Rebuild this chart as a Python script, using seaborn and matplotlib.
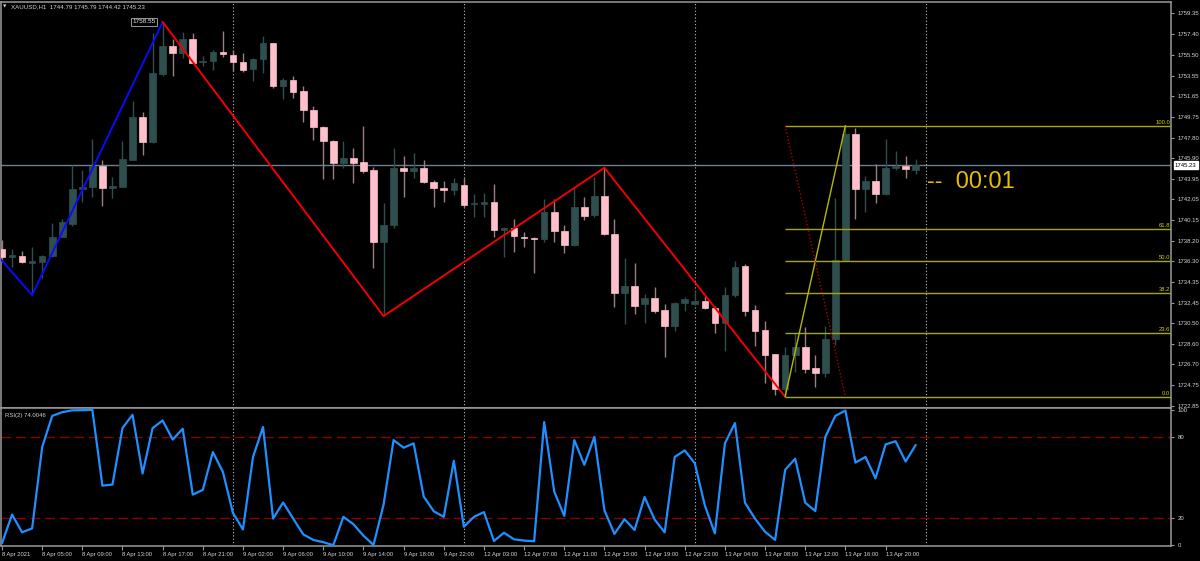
import matplotlib
matplotlib.use("Agg")
import matplotlib.pyplot as plt
import matplotlib.transforms as mtransforms
import pandas as pd
import seaborn as sns

# XAUUSD H1, 8 Apr 2021 01:00 .. 13 Apr 2021 23:00 (92 bars)
opens = [
    1737.40, 1736.65, 1736.78, 1736.16, 1736.22, 1736.78, 1738.54, 1739.75, 1743.04, 1743.16,
    1745.15, 1743.13, 1743.20, 1745.74, 1749.71, 1747.41, 1753.74, 1756.31, 1755.63, 1756.96,
    1754.82, 1754.92, 1755.78, 1755.44, 1754.82, 1754.14, 1755.13, 1756.56, 1752.62, 1753.12,
    1752.09, 1750.39, 1748.81, 1747.50, 1745.40, 1745.92, 1745.49, 1744.81, 1738.05, 1739.63,
    1744.99, 1744.65, 1744.99, 1743.69, 1743.13, 1742.92, 1743.38, 1741.58, 1741.64, 1741.83,
    1739.23, 1739.35, 1738.54, 1738.48, 1738.36, 1740.87, 1739.10, 1737.77, 1741.37, 1740.59,
    1742.36, 1738.79, 1733.37, 1733.99, 1732.31, 1732.90, 1731.72, 1730.30, 1732.43, 1732.28,
    1732.62, 1731.91, 1730.51, 1733.15, 1735.85, 1731.75, 1729.86, 1727.69, 1724.37, 1727.54,
    1728.34, 1726.36, 1725.89, 1729.02, 1736.40, 1748.09, 1742.98, 1743.75, 1742.51, 1744.99,
    1745.18, 1744.79]
highs = [
    1738.26, 1737.40, 1737.24, 1737.64, 1736.87, 1739.81, 1740.19, 1745.24, 1744.78, 1747.63,
    1745.71, 1744.16, 1747.50, 1751.23, 1750.17, 1757.55, 1758.55, 1756.93, 1757.61, 1757.49,
    1755.38, 1755.94, 1757.71, 1755.94, 1755.63, 1755.16, 1757.27, 1756.60, 1753.30, 1753.52,
    1752.59, 1750.73, 1748.87, 1747.57, 1747.47, 1746.85, 1748.90, 1745.02, 1741.68, 1746.79,
    1746.08, 1746.33, 1745.71, 1743.85, 1743.75, 1744.06, 1744.00, 1742.51, 1742.61, 1743.44,
    1739.50, 1740.19, 1739.04, 1738.57, 1742.05, 1742.11, 1739.66, 1743.07, 1742.30, 1744.16,
    1744.99, 1740.19, 1736.56, 1736.09, 1733.24, 1733.92, 1732.31, 1732.53, 1732.93, 1733.61,
    1733.06, 1732.12, 1733.86, 1736.34, 1736.00, 1732.22, 1730.73, 1727.69, 1728.34, 1729.58,
    1730.14, 1727.54, 1730.26, 1742.14, 1748.90, 1748.71, 1744.22, 1745.33, 1747.63, 1746.54,
    1746.11, 1745.79]
lows = [
    1736.25, 1735.78, 1736.09, 1733.15, 1734.70, 1736.71, 1738.51, 1739.57, 1741.83, 1742.30,
    1741.46, 1742.14, 1743.16, 1745.71, 1746.20, 1747.32, 1753.52, 1753.52, 1755.16, 1754.70,
    1754.45, 1754.08, 1755.32, 1754.02, 1753.92, 1753.09, 1753.83, 1752.37, 1751.35, 1751.50,
    1749.27, 1747.57, 1743.94, 1743.94, 1744.93, 1743.54, 1744.53, 1735.63, 1731.19, 1739.35,
    1742.30, 1744.00, 1743.60, 1741.30, 1741.77, 1742.45, 1741.37, 1740.43, 1740.43, 1738.57,
    1736.65, 1737.18, 1737.64, 1735.16, 1738.11, 1738.11, 1737.02, 1737.74, 1740.12, 1740.37,
    1738.73, 1732.06, 1730.42, 1731.38, 1730.57, 1731.50, 1727.35, 1729.83, 1731.69, 1732.22,
    1731.81, 1729.64, 1727.97, 1732.99, 1731.19, 1728.40, 1724.93, 1723.85, 1723.69, 1726.02,
    1725.92, 1724.56, 1725.55, 1728.50, 1736.34, 1740.22, 1740.90, 1741.68, 1742.45, 1744.78,
    1744.00, 1744.42]
closes = [
    1736.65, 1736.84, 1736.22, 1736.22, 1736.81, 1738.57, 1739.94, 1743.04, 1743.23, 1745.15,
    1743.13, 1743.23, 1745.80, 1749.71, 1747.38, 1753.77, 1756.31, 1755.63, 1756.93, 1754.76,
    1754.92, 1755.78, 1755.54, 1754.79, 1754.08, 1755.10, 1756.56, 1752.62, 1753.15, 1752.03,
    1750.36, 1748.78, 1747.44, 1745.40, 1745.92, 1745.46, 1744.71, 1738.05, 1739.66, 1744.99,
    1744.65, 1744.99, 1743.63, 1743.07, 1742.92, 1743.54, 1741.52, 1741.68, 1741.71, 1739.23,
    1739.35, 1738.61, 1738.42, 1738.36, 1740.87, 1739.10, 1737.77, 1741.37, 1740.53, 1742.36,
    1738.79, 1733.37, 1733.99, 1732.12, 1732.90, 1731.66, 1730.30, 1732.43, 1732.75, 1732.59,
    1731.91, 1730.51, 1733.15, 1735.78, 1731.69, 1729.80, 1727.57, 1724.37, 1727.57, 1728.28,
    1726.30, 1725.89, 1729.09, 1736.40, 1748.09, 1742.98, 1743.75, 1742.51, 1744.99, 1745.18,
    1744.90, 1745.23]
rsi2 = [
    1.5, 22.7, 9.6, 12.5, 72.4, 95.5, 98.2, 99.6, 99.7, 99.9,
    44.0, 44.8, 86.5, 96.3, 53.0, 86.5, 92.1, 78.0, 86.0, 37.4,
    40.9, 68.8, 54.2, 23.9, 11.7, 65.2, 87.3, 19.7, 31.6, 19.7,
    8.1, 4.0, 2.3, 0.1, 21.0, 15.6, 7.1, 0.3, 29.9, 77.6,
    72.0, 75.2, 36.0, 25.1, 21.0, 62.3, 13.7, 21.0, 24.5, 3.2,
    9.3, 4.4, 3.5, 3.0, 90.9, 39.7, 21.7, 77.6, 59.4, 80.0,
    25.8, 8.4, 19.3, 11.3, 35.6, 19.0, 9.6, 65.2, 70.0, 60.5,
    29.4, 8.8, 75.2, 90.2, 31.4, 19.7, 10.0, 4.0, 55.7, 63.9,
    31.4, 25.3, 80.0, 95.5, 99.4, 61.0, 65.2, 49.4, 74.4, 76.8,
    61.8, 74.0046]

time_labels = ["8 Apr 2021", "8 Apr 05:00", "8 Apr 09:00", "8 Apr 13:00", "8 Apr 17:00",
               "8 Apr 21:00", "9 Apr 02:00", "9 Apr 06:00", "9 Apr 10:00", "9 Apr 14:00",
               "9 Apr 18:00", "9 Apr 22:00", "12 Apr 03:00", "12 Apr 07:00", "12 Apr 11:00",
               "12 Apr 15:00", "12 Apr 19:00", "12 Apr 23:00", "13 Apr 04:00", "13 Apr 08:00",
               "13 Apr 12:00", "13 Apr 16:00", "13 Apr 20:00"]
price_ticks = ["1759.35", "1757.40", "1755.50", "1753.55", "1751.65", "1749.75", "1747.80",
               "1745.90", "1743.95", "1742.05", "1740.15", "1738.20", "1736.30", "1734.35",
               "1732.45", "1730.50", "1728.60", "1726.70", "1724.75", "1722.85"]
day_starts = [23, 46, 69, 92]

# zigzag turning points (bar, price)
zz_blue_bars = [-1, 3, 16]
zz_blue_prices = [1737.4, 1733.15, 1758.55]
zz_red_bars = [16, 38, 60, 78]
zz_red_prices = [1758.55, 1731.19, 1744.99, 1723.69]

# fibonacci from bar 78 low to bar 84 high
fib_bars = [78, 84]
fib_low, fib_high = 1723.69, 1748.90
fib_levels = [0.0, 23.6, 38.2, 50.0, 61.8, 100.0]

last_price = 1745.23

df = pd.DataFrame({"open": opens, "high": highs, "low": lows, "close": closes})
df["bar"] = range(len(df))
df["bull"] = df["close"] >= df["open"]

BULL = "#2F4F4F"
BEAR = "#FFC0CB"
BEAR_WICK = "#9c7f84"
TXT = "#d4d4d4"
FRAME = "#9a9a9a"

sns.set_style("dark", {"axes.facecolor": "black", "figure.facecolor": "black"})
plt.rcParams["font.family"] = ["Liberation Sans", "DejaVu Sans"]

W, H = 1200, 561
fig = plt.figure(figsize=(12, 5.61), dpi=100, facecolor="black")
ax = fig.add_axes([1 / W, 1 - 408 / H, 1170 / W, 406.5 / H])
ax_rsi = fig.add_axes([1 / W, 1 - 546 / H, 1170 / W, 138 / H])

x_left, x_right = -0.1, 116.43

# candles
wick_col = [BULL if b else BEAR_WICK for b in df["bull"]]
ax.vlines(df["bar"], df["low"], df["high"], colors=wick_col, lw=1, zorder=2)
body_bottom = df[["open", "close"]].min(axis=1)
body_height = (df["close"] - df["open"]).abs().clip(lower=0.12)
ax.bar(df["bar"], body_height, bottom=body_bottom, width=0.66,
       color=[BULL if b else BEAR for b in df["bull"]],
       edgecolor=[BULL if b else BEAR for b in df["bull"]], linewidth=0.5, zorder=3)

# current price line and day separators
ax.axhline(last_price, color="#6e7f8f", lw=1, zorder=1)
for d in day_starts:
    for a in (ax, ax_rsi):
        a.axvline(d, color="#bdbdbd", ls=(0, (1, 2)), lw=0.8, zorder=1)

# zigzag
sns.lineplot(x=zz_blue_bars, y=zz_blue_prices, ax=ax, color="#0a0aff", lw=1.4, zorder=4)
sns.lineplot(x=zz_red_bars, y=zz_red_prices, ax=ax, color="#f00000", lw=1.4, zorder=4)
ax.text(15.3, 1758.55, "1758.55", ha="right", va="center", fontsize=4.6, color="#e6e6e6",
        bbox=dict(facecolor="black", edgecolor="#b0b0b0", pad=0.9, lw=0.6), zorder=6)

# fibonacci
fib_prices = [fib_low + lv / 100 * (fib_high - fib_low) for lv in fib_levels]
for lv, p in zip(fib_levels, fib_prices):
    ax.hlines(p, fib_bars[0], x_right, color="#a8a800", lw=1, zorder=4)
    ax.text(x_right - 0.1, p + 0.08, f"{lv:.1f}", ha="right", va="bottom",
            fontsize=4.2, color="#d2d200", zorder=6)
ax.plot(fib_bars, [fib_low, fib_high], color="#b8b800", lw=1, zorder=4)
ax.plot(fib_bars, [fib_high, fib_low], color="#b00000", lw=1, ls=(0, (1, 1.5)), zorder=4)

ax.text(92.1, 1743.66, "--  00:01", ha="left", va="center", fontsize=17,
        color="#E6BE00", zorder=6)

ax.set_xlim(x_left, x_right)
ax.set_ylim(1722.64, 1760.45)
ax.yaxis.tick_right()
ax.set_yticks([float(t) for t in price_ticks])
ax.set_yticklabels(price_ticks)
ax.tick_params(axis="y", colors=FRAME, labelcolor=TXT, labelsize=4.3, length=2.5,
               width=0.8, pad=2, direction="out", right=True, left=False)
ax.tick_params(axis="x", bottom=False, labelbottom=False)
ax.set_xlabel("")
ax.set_ylabel("")

trans = mtransforms.blended_transform_factory(ax.transAxes, ax.transData)
ax.text(1.0 + 4 / 1170, last_price, "1745.23", transform=trans, ha="left", va="center",
        fontsize=4.3, color="black",
        bbox=dict(facecolor="white", edgecolor="white", pad=0.9), zorder=7, clip_on=False)

# RSI panel
sns.lineplot(x=df["bar"], y=rsi2, ax=ax_rsi, color="#1E90FF", lw=1.6, zorder=4)
for lvl in (20, 80):
    ax_rsi.axhline(lvl, color="#8B0000", lw=1, ls=(0, (7, 3.5)), zorder=2)
ax_rsi.set_xlim(x_left, x_right)
ax_rsi.set_ylim(-0.5, 101.3)
ax_rsi.yaxis.tick_right()
ax_rsi.set_yticks([0, 20, 80, 100])
ax_rsi.set_yticklabels(["0", "20", "80", "100"])
ax_rsi.tick_params(axis="y", colors=FRAME, labelcolor=TXT, labelsize=4.3, length=2.5,
                   width=0.8, pad=2, direction="out", right=True, left=False)
ax_rsi.set_xticks(range(0, 4 * len(time_labels), 4))
ax_rsi.set_xticklabels(time_labels, ha="left")
ax_rsi.tick_params(axis="x", colors=FRAME, labelcolor=TXT, labelsize=4.2, length=3,
                   width=0.8, pad=1, direction="out", bottom=True)
ax_rsi.set_xlabel("")
ax_rsi.set_ylabel("")
ax_rsi.text(4 / 1170, 0.965, "RSI(2) 74.0046", transform=ax_rsi.transAxes, ha="left",
            va="top", fontsize=4.3, color=TXT)

for a in (ax, ax_rsi):
    a.grid(False)
    for s in a.spines.values():
        s.set_visible(True)
        s.set_color(FRAME)
        s.set_linewidth(1.1)

fig.text(3 / W, 1 - 7 / H, "\u25bc", fontsize=3.2, color=TXT, va="center",
         family=["DejaVu Sans"])
fig.text(11 / W, 1 - 7 / H, "XAUUSD,H1  1744.79 1745.79 1744.42 1745.23", fontsize=4.4,
         color=TXT, va="center")

fig.savefig("out.png", dpi=100, facecolor="black")
